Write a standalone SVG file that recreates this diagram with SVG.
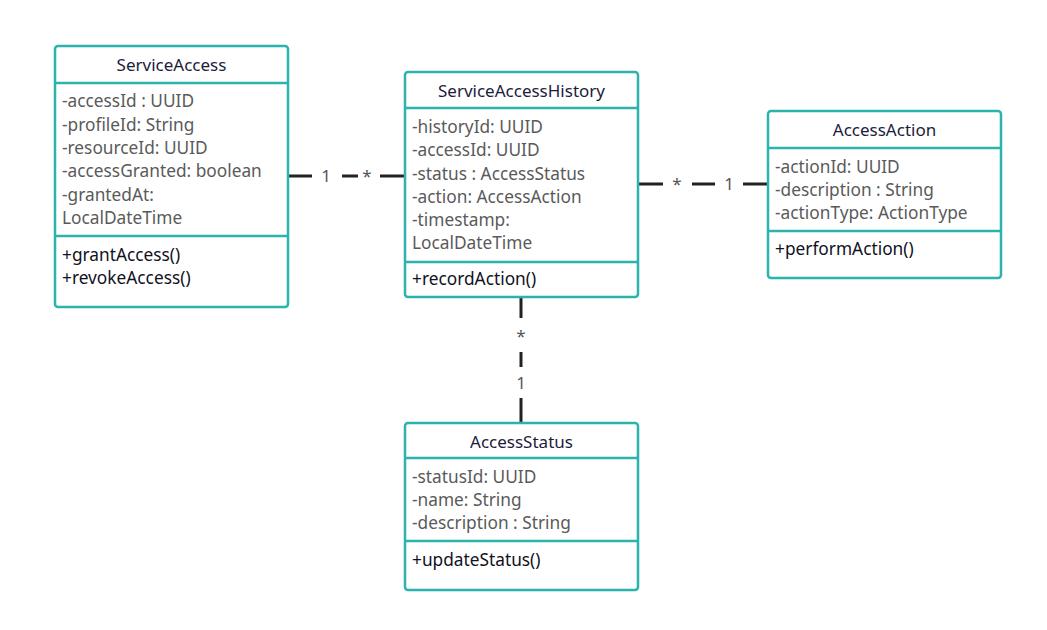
<svg xmlns="http://www.w3.org/2000/svg" width="1047" height="630" viewBox="0 0 1047 630">
<style>
.box{fill:#fff;stroke:#2bb3ae;stroke-width:2.5}
.div{stroke:#2bb3ae;stroke-width:2.5}
text{font-family:"Noto Sans","Open Sans","DejaVu Sans",sans-serif;font-size:17px}
.t{fill:#1c1c3c;text-anchor:middle}
.a{fill:#5a5a5a;font-size:17.3px}
.m{fill:#111122;font-size:17.3px}
.c{stroke:#222;stroke-width:3;fill:none}
.l{fill:#555;text-anchor:middle}
</style>
<rect width="1047" height="630" fill="#fff"/>
<g id="connectors">
<path class="c" d="M288 176H312M342 176H358M380 176H405"/>
<text class="l" x="326" y="182">1</text>
<text class="l" x="367" y="182">*</text>
<path class="c" d="M638 184H663M692 184H715M743 184H768"/>
<text class="l" x="677" y="190">*</text>
<text class="l" x="729" y="190">1</text>
<path class="c" d="M521 297V318M521 352V367M521 398V423"/>
<text class="l" x="521" y="342">*</text>
<text class="l" x="521" y="389">1</text>
</g>
<g id="ServiceAccess">
<rect class="box" x="55" y="46" width="233" height="261" rx="3"/>
<path class="div" d="M55 83H288M55 236H288"/>
<text class="t" x="171.5" y="71">ServiceAccess</text>
<text class="a" x="62" y="107">-accessId : UUID</text>
<text class="a" x="62" y="130.5">-profileId: String</text>
<text class="a" x="62" y="154">-resourceId: UUID</text>
<text class="a" x="62" y="177">-accessGranted: boolean</text>
<text class="a" x="62" y="200.5">-grantedAt:</text>
<text class="a" x="62" y="224">LocalDateTime</text>
<text class="m" x="62" y="261">+grantAccess()</text>
<text class="m" x="62" y="284">+revokeAccess()</text>
</g>
<g id="ServiceAccessHistory">
<rect class="box" x="405" y="72" width="233" height="225" rx="3"/>
<path class="div" d="M405 108H638M405 262H638"/>
<text class="t" x="521.5" y="97">ServiceAccessHistory</text>
<text class="a" x="412" y="133">-historyId: UUID</text>
<text class="a" x="412" y="156">-accessId: UUID</text>
<text class="a" x="412" y="179.5">-status : AccessStatus</text>
<text class="a" x="412" y="203">-action: AccessAction</text>
<text class="a" x="412" y="226">-timestamp:</text>
<text class="a" x="412" y="249">LocalDateTime</text>
<text class="m" x="412" y="285">+recordAction()</text>
</g>
<g id="AccessAction">
<rect class="box" x="768" y="111" width="233" height="167" rx="3"/>
<path class="div" d="M768 148H1001M768 231H1001"/>
<text class="t" x="884.5" y="136">AccessAction</text>
<text class="a" x="775" y="172.5">-actionId: UUID</text>
<text class="a" x="775" y="195.5">-description : String</text>
<text class="a" x="775" y="219">-actionType: ActionType</text>
<text class="m" x="775" y="255">+performAction()</text>
</g>
<g id="AccessStatus">
<rect class="box" x="405" y="423" width="233" height="167" rx="3"/>
<path class="div" d="M405 458H638M405 541H638"/>
<text class="t" x="521.5" y="447.5">AccessStatus</text>
<text class="a" x="412" y="482.5">-statusId: UUID</text>
<text class="a" x="412" y="506">-name: String</text>
<text class="a" x="412" y="529">-description : String</text>
<text class="m" x="412" y="566">+updateStatus()</text>
</g>
</svg>
